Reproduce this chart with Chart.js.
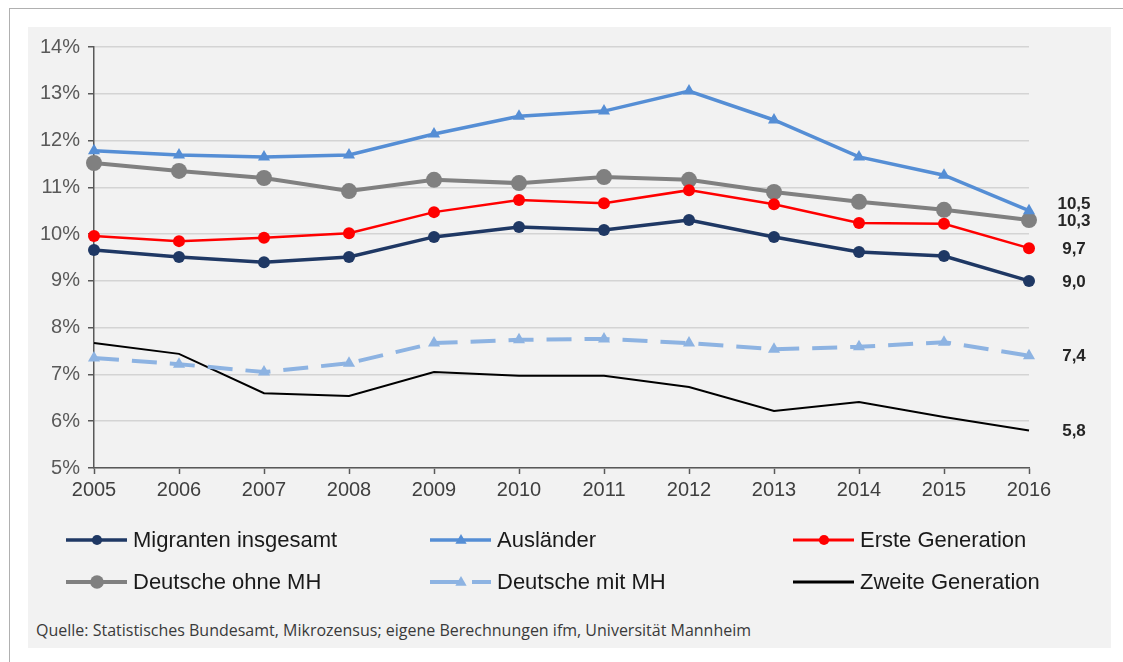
<!DOCTYPE html>
<html>
<head>
<meta charset="utf-8">
<script src="https://cdn.jsdelivr.net/npm/chart.js@4"></script>
<style>
  body { margin: 0; background: #fff; width: 1123px; height: 662px; overflow: hidden; position: relative; font-family: "Liberation Sans", Arial, sans-serif; }
  #frame { position: absolute; left: 9px; top: 8px; right: 0; bottom: 0; border-left: 1.5px solid #b0b0b0; border-top: 1.5px solid #b0b0b0; }
  #panel { position: absolute; left: 28px; top: 27px; width: 1083px; height: 621px; background: #f2f2f2; }
  #source { position: absolute; left: 36px; top: 619px; font-family: "Open Sans", sans-serif; font-size: 16px; color: #3a3a3a; white-space: nowrap; }
  #wrap { position: absolute; left: 0; top: 0; width: 1123px; height: 662px; }
</style>
</head>
<body>
<div id="frame"></div>
<div id="panel"></div>
<div id="source">Quelle: Statistisches Bundesamt, Mikrozensus; eigene Berechnungen ifm, Universität Mannheim</div>
<div id="wrap"><canvas id="chart"></canvas></div>
<script>
const years = ["2005", "2006", "2007", "2008", "2009", "2010", "2011", "2012", "2013", "2014", "2015", "2016"];
const migranten = [9.66, 9.51, 9.40, 9.51, 9.94, 10.15, 10.09, 10.30, 9.94, 9.62, 9.53, 9.0];
const auslaender = [11.78, 11.69, 11.65, 11.69, 12.14, 12.52, 12.63, 13.06, 12.44, 11.65, 11.26, 10.5];
const ersteGen = [9.96, 9.85, 9.92, 10.02, 10.47, 10.73, 10.66, 10.94, 10.64, 10.24, 10.22, 9.7];
const deutscheOhneMH = [11.52, 11.35, 11.20, 10.92, 11.16, 11.09, 11.22, 11.16, 10.90, 10.69, 10.52, 10.3];
const deutscheMitMH = [7.35, 7.22, 7.05, 7.24, 7.67, 7.74, 7.76, 7.67, 7.54, 7.59, 7.69, 7.4];
const zweiteGen = [7.67, 7.44, 6.60, 6.54, 7.05, 6.97, 6.97, 6.73, 6.22, 6.41, 6.09, 5.8];
const yMin = 5;
const yMax = 14;

const FONT = "'Liberation Sans', Arial, sans-serif";

// legend slots: column x, row y
const legendPos = [[66, 540], [430, 540], [793, 540], [66, 582], [430, 582], [793, 582]];

const endLabels = {
  id: "endLabels",
  afterDatasetsDraw(chart) {
    const c = chart.ctx;
    let items = [];
    chart.data.datasets.forEach((ds, i) => {
      const meta = chart.getDatasetMeta(i);
      const pt = meta.data[meta.data.length - 1];
      items.push({ y: pt.y + 1, text: ds.data[ds.data.length - 1].toFixed(1).replace(".", ",") });
    });
    items.sort((a, b) => b.y - a.y);
    // push upper label up when two labels collide
    for (let k = 1; k < items.length; k++) {
      if (items[k - 1].y - items[k].y < 17) items[k].y = items[k - 1].y - 17;
    }
    c.save();
    c.font = "bold 17px " + FONT;
    c.fillStyle = "#262626";
    c.textAlign = "center";
    c.textBaseline = "middle";
    items.forEach((it) => c.fillText(it.text, 1074, it.y));
    c.restore();
  },
  afterDraw(chart) {
    const c = chart.ctx;
    c.save();
    chart.data.datasets.forEach((ds, i) => {
      const [x, y] = legendPos[i];
      c.strokeStyle = ds.borderColor;
      c.lineWidth = Math.max(ds.borderWidth, 3);
      c.setLineDash(ds.borderDash ? [30, 12] : []);
      c.beginPath();
      c.moveTo(x, y);
      c.lineTo(x + 61, y);
      c.stroke();
      c.setLineDash([]);
      if (ds.pointRadius > 0) {
        c.fillStyle = ds.pointBackgroundColor;
        const r = ds.pointRadius * 0.85;
        c.beginPath();
        if (ds.pointStyle === "triangle") {
          c.moveTo(x + 31, y - r);
          c.lineTo(x + 31 + r * 0.95, y + r * 0.65);
          c.lineTo(x + 31 - r * 0.95, y + r * 0.65);
          c.closePath();
        } else {
          c.arc(x + 31, y, r, 0, Math.PI * 2);
        }
        c.fill();
      }
      c.font = "22px " + FONT;
      c.fillStyle = "#1a1a1a";
      c.textBaseline = "middle";
      c.fillText(ds.label, x + 67, y + 1);
    });
    c.restore();
  }
};

new Chart(document.getElementById("chart"), {
  type: "line",
  data: {
    labels: years,
    datasets: [
      { label: "Migranten insgesamt", data: migranten, borderColor: "#1f3864", borderWidth: 3.5, pointRadius: 6, pointStyle: "circle", pointBackgroundColor: "#1f3864", pointBorderWidth: 0 },
      { label: "Ausländer", data: auslaender, borderColor: "#558ed5", borderWidth: 3.5, pointRadius: 7, pointStyle: "triangle", pointBackgroundColor: "#558ed5", pointBorderWidth: 0 },
      { label: "Erste Generation", data: ersteGen, borderColor: "#ff0000", borderWidth: 2.5, pointRadius: 6, pointStyle: "circle", pointBackgroundColor: "#ff0000", pointBorderWidth: 0 },
      { label: "Deutsche ohne MH", data: deutscheOhneMH, borderColor: "#808080", borderWidth: 4, pointRadius: 8, pointStyle: "circle", pointBackgroundColor: "#808080", pointBorderWidth: 0 },
      { label: "Deutsche mit MH", data: deutscheMitMH, borderColor: "#8db3e2", borderWidth: 4, borderDash: [25, 13], pointRadius: 7, pointStyle: "triangle", pointBackgroundColor: "#8db3e2", pointBorderWidth: 0 },
      { label: "Zweite Generation", data: zweiteGen, borderColor: "#000000", borderWidth: 2, pointRadius: 0 }
    ]
  },
  options: {
    responsive: true,
    maintainAspectRatio: false,
    animation: false,
    layout: { padding: { top: 47, right: 94, bottom: 0, left: 0 } },
    plugins: { legend: { display: false }, tooltip: { enabled: false } },
    elements: { line: { tension: 0 } },
    scales: {
      x: {
        afterFit: (s) => { s.height = 194; },
        grid: { drawOnChartArea: false, drawTicks: true, tickLength: 6, tickColor: "#595959", tickWidth: 1.5 },
        border: { color: "#595959", width: 1.5 },
        ticks: { color: "#404040", font: { family: FONT, size: 20 }, padding: 4, maxRotation: 0 }
      },
      y: {
        min: yMin,
        max: yMax,
        afterFit: (s) => { s.width = 94; },
        grid: { color: "#d4d4d4", lineWidth: 1.5, tickLength: 6, tickColor: "#595959", tickWidth: 1.5 },
        border: { color: "#595959", width: 1.5 },
        ticks: { stepSize: 1, color: "#595959", font: { family: FONT, size: 20 }, padding: 8, callback: (v) => v + "%" }
      }
    }
  },
  plugins: [endLabels]
});
</script>
</body>
</html>
